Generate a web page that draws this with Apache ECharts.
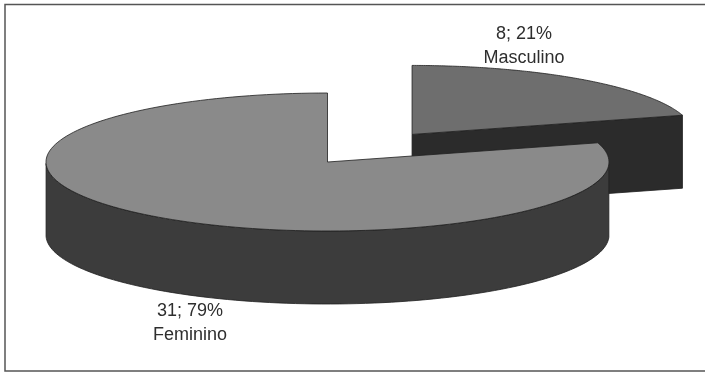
<!DOCTYPE html>
<html>
<head>
<meta charset="utf-8">
<style>
html, body { margin: 0; padding: 0; background: #fff; }
#chart { width: 705px; height: 372px; }
</style>
<script src="https://cdn.jsdelivr.net/npm/echarts@6/dist/echarts.min.js"></script>
</head>
<body>
<div id="chart"></div>
<script>
// Gender split of respondents
const categories = ['Masculino', 'Feminino'];
const counts = [8, 31];
const percents = [21, 79];

// Tilted-disc geometry
const centerX = 327.5, centerY = 162;
const radiusX = 281.5, radiusY = 69, depth = 73;
const explode = [0.5, 0];
const topColors = ['#6e6e6e', '#8a8a8a'];
const sideColors = ['#2b2b2b', '#3c3c3c'];
const labelAnchors = [[524, 46], [190, 323]];

const total = counts.reduce((a, b) => a + b, 0);
const startAngles = counts.map((_, i) =>
  counts.slice(0, i).reduce((a, b) => a + b, 0) / total * Math.PI * 2);

// Angle is measured clockwise from twelve o'clock on the ellipse
const rim = (cx, cy, t) => [cx + radiusX * Math.sin(t), cy - radiusY * Math.cos(t)];

function renderSlice(params, api) {
  const i = params.dataIndex;
  const value = api.value(1);
  const a0 = startAngles[i];
  const a1 = a0 + value / total * Math.PI * 2;
  const mid = (a0 + a1) / 2;
  const cx = centerX + explode[i] * radiusX * Math.sin(mid);
  const cy = centerY - explode[i] * radiusY * Math.cos(mid);

  const arc = [];
  const steps = 160;
  for (let s = 0; s <= steps; s++) arc.push(rim(cx, cy, a0 + (a1 - a0) * s / steps));

  const children = [];
  const stroke = { stroke: '#1f1f1f', lineWidth: 0.8 };

  // Cut face of the slice that looks toward the viewer
  if (a1 < Math.PI) {
    const end = rim(cx, cy, a1);
    children.push({
      type: 'polygon',
      shape: { points: [[cx, cy], end, [end[0], end[1] + depth], [cx, cy + depth]] },
      style: Object.assign({ fill: sideColors[i] }, stroke)
    });
  }

  // Outer wall, only where the rim faces the viewer
  const wall = arc.filter((_, s) => {
    const t = a0 + (a1 - a0) * s / steps;
    return t >= Math.PI / 2 && t <= Math.PI * 1.5;
  });
  if (wall.length > 1) {
    const lower = wall.map(p => [p[0], p[1] + depth]).reverse();
    children.push({
      type: 'polygon',
      shape: { points: wall.concat(lower) },
      style: Object.assign({ fill: sideColors[i] }, stroke)
    });
  }

  // Top face
  children.push({
    type: 'polygon',
    shape: { points: [[cx, cy]].concat(arc) },
    style: Object.assign({ fill: topColors[i] }, stroke)
  });

  // Value and name above each other
  children.push({
    type: 'text',
    style: {
      x: labelAnchors[i][0],
      y: labelAnchors[i][1],
      text: counts[i] + '; ' + percents[i] + '%\n' + categories[i],
      fill: '#2e2e2e',
      font: '18px "Liberation Sans", Arial, sans-serif',
      lineHeight: 24,
      align: 'center',
      verticalAlign: 'middle'
    }
  });

  return { type: 'group', children };
}

const chart = echarts.init(document.getElementById('chart'), null, { renderer: 'canvas' });
chart.setOption({
  animation: false,
  backgroundColor: '#fff',
  // Frame runs off the right edge of the page, so only three sides show
  graphic: [{
    type: 'rect',
    shape: { x: 5, y: 4.5, width: 720, height: 366.5 },
    style: { fill: '#fff', stroke: '#555', lineWidth: 1.5 },
    z: -1
  }],
  series: [{
    type: 'custom',
    coordinateSystem: 'none',
    renderItem: renderSlice,
    data: categories.map((name, i) => ({ name, value: [i, counts[i]] }))
  }]
});
</script>
</body>
</html>
